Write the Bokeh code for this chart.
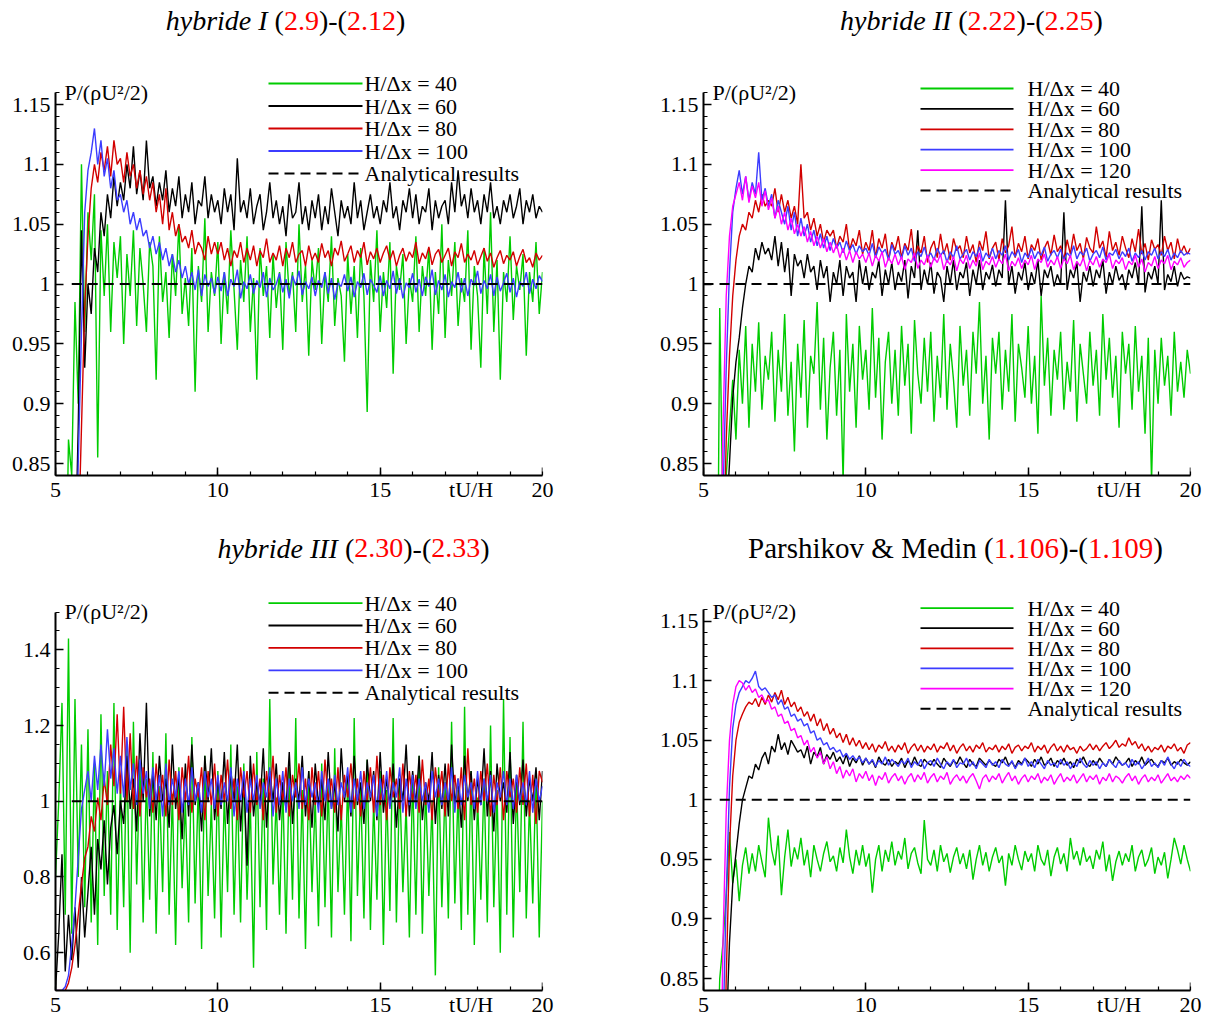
import numpy as np
from bokeh.plotting import figure
from bokeh.models import (Range1d, FixedTicker, CustomJSTickFormatter, Label,
                          LinearAxis)
from bokeh.layouts import column, row
from bokeh.embed import file_html
from bokeh.resources import INLINE

# ---------------------------------------------------------------- data
# time axis tU/H, sampled every 0.1 from 5 to 20
time_grid = [round(5.0 + 0.1 * i, 1) for i in range(151)]

# values are P/(rho U^2/2) in thousandths
# ---- hybride I (2.9)-(2.12)
hyb1_n40 = [600, 620, 640, 700, 870, 840, 985, 900, 1100, 960,
            1060, 1020, 1075, 855, 1045, 990, 1050, 960, 1035, 1005,
            1040, 950, 1025, 990, 1045, 965, 1030, 1000, 960, 1035,
            1015, 920, 1040, 985, 1010, 955, 1025, 990, 1050, 975,
            1005, 965, 1030, 910, 1015, 985, 1055, 960, 1010, 990,
            1035, 950, 1010, 975, 1045, 995, 945, 1020, 985, 1040,
            960, 1005, 920, 1030, 990, 1015, 955, 1025, 980, 1010,
            945, 1035, 990, 1010, 960, 1050, 985, 1015, 940, 1020,
            995, 1030, 950, 1010, 985, 1040, 965, 1005, 990, 935,
            1025, 975, 1015, 955, 1030, 990, 893, 1020, 985, 1045,
            960, 1010, 980, 1035, 925, 1015, 995, 1025, 950, 1005,
            985, 1040, 960, 1015, 990, 1030, 945, 1010, 975, 1050,
            955, 1020, 990, 1035, 965, 1005, 985, 1045, 945, 1015,
            990, 930, 1030, 975, 1060, 960, 1020, 920, 1010, 985,
            1040, 970, 1015, 995, 1025, 940, 1010, 985, 1035, 975,
            1010]
hyb1_n60 = [500, 500, 500, 500, 500, 600, 760, 880, 1045, 930,
            1000, 975, 1030, 1010, 1060, 1040, 1075, 1055, 1090, 1065,
            1085, 1070, 1100, 1080, 1115, 1075, 1095, 1070, 1120, 1080,
            1090, 1065, 1085, 1070, 1095, 1060, 1080, 1065, 1090, 1055,
            1075, 1060, 1085, 1050, 1070, 1065, 1090, 1055, 1075, 1060,
            1070, 1050, 1080, 1060, 1075, 1045, 1105, 1060, 1070, 1055,
            1080, 1050, 1065, 1075, 1045, 1060, 1085, 1055, 1070, 1050,
            1065, 1040, 1075, 1055, 1060, 1085, 1050, 1065, 1045, 1070,
            1055, 1075, 1045, 1065, 1050, 1080, 1060, 1040, 1070, 1055,
            1065, 1050, 1085, 1055, 1070, 1045, 1060, 1075, 1055, 1065,
            1050, 1070, 1060, 1085, 1055, 1065, 1045, 1070, 1060, 1080,
            1055, 1075, 1050, 1065, 1060, 1080, 1045, 1070, 1055, 1065,
            1070, 1050, 1085, 1060, 1095, 1065, 1075, 1055, 1080, 1060,
            1070, 1050, 1075, 1060, 1085, 1055, 1065, 1050, 1070, 1060,
            1075, 1055, 1065, 1080, 1050, 1070, 1060, 1075, 1055, 1065,
            1060]
hyb1_n80 = [500, 500, 500, 500, 500, 550, 650, 780, 880, 980,
            1040, 1080, 1100, 1085, 1110, 1095, 1115, 1090, 1120, 1100,
            1105, 1085, 1110, 1090, 1100, 1080, 1095, 1075, 1090, 1070,
            1085, 1060, 1075, 1050, 1080, 1045, 1060, 1040, 1050, 1035,
            1040, 1030, 1045, 1025, 1035, 1030, 1020, 1040, 1025, 1035,
            1025, 1035, 1020, 1030, 1015, 1028, 1022, 1035, 1018, 1030,
            1020, 1032, 1015, 1028, 1022, 1038, 1018, 1026, 1020, 1032,
            1015, 1030, 1022, 1035, 1018, 1025, 1028, 1015, 1032, 1020,
            1026, 1018, 1034, 1022, 1028, 1015, 1030, 1024, 1036, 1019,
            1025, 1032, 1018, 1028, 1022, 1035, 1016, 1027, 1021, 1030,
            1018, 1026, 1032, 1020, 1028, 1015, 1024, 1030, 1019, 1027,
            1022, 1035, 1017, 1026, 1021, 1031, 1016, 1025, 1029, 1018,
            1024, 1030, 1015, 1027, 1022, 1034, 1018, 1025, 1020, 1028,
            1016, 1023, 1030, 1019, 1026, 1014, 1022, 1028, 1017, 1024,
            1020, 1027, 1015, 1023, 1029, 1018, 1022, 1014, 1026, 1020,
            1024]
hyb1_n100 = [500, 500, 500, 500, 500, 560, 700, 850, 960, 1060,
             1095, 1110, 1130, 1100, 1120, 1090, 1105, 1080, 1095, 1070,
             1075, 1060, 1070, 1050, 1060, 1045, 1055, 1040, 1045, 1030,
             1040, 1025, 1035, 1020, 1030, 1015, 1025, 1010, 1020, 1005,
             1015, 1000, 1010, 995, 1012, 990, 1008, 998, 1005, 992,
             1006, 994, 1010, 990, 1004, 998, 1012, 988, 1002, 996,
             1008, 992, 1003, 997, 1010, 989, 1005, 995, 1000, 1009,
             993, 1004, 988, 1007, 999, 1011, 991, 1002, 996, 1006,
             990, 1003, 997, 1010, 992, 1005, 987, 1001, 998, 1008,
             994, 1006, 989, 1002, 997, 1009, 991, 1004, 999, 993,
             1007, 990, 1003, 996, 1011, 992, 1005, 988, 1001, 997,
             1009, 993, 1004, 990, 1006, 998, 1012, 991, 1003, 995,
             1008, 989, 1002, 997, 1010, 993, 1005, 990, 1004, 999,
             1011, 992, 1003, 996, 1008, 990, 1006, 994, 1001, 1009,
             993, 1005, 989, 1002, 998, 1010, 992, 1004, 996, 1007,
             1002]

# ---- hybride II (2.22)-(2.25)
hyb2_n40 = [600, 600, 600, 600, 600, 980, 800, 840, 880, 920,
            870, 945, 900, 965, 880, 950, 910, 968, 895, 940,
            920, 960, 885, 945, 910, 975, 890, 935, 860, 950,
            905, 970, 880, 940, 925, 985, 895, 955, 870, 930,
            960, 890, 945, 835, 975, 910, 950, 880, 965, 920,
            945, 895, 980, 905, 955, 870, 935, 960, 900, 945,
            890, 965, 915, 950, 875, 970, 925, 900, 955, 910,
            960, 885, 940, 905, 975, 895, 950, 920, 880, 965,
            915, 945, 890, 960, 925, 985, 900, 940, 870, 955,
            925, 960, 895, 945, 910, 975, 885, 950, 930, 905,
            965, 900, 940, 875, 990, 915, 955, 890, 945, 920,
            960, 895, 935, 910, 970, 885, 950, 925, 900, 960,
            915, 945, 890, 975, 920, 955, 905, 940, 880, 960,
            925, 950, 895, 965, 910, 940, 875, 955, 835, 945,
            900, 955, 915, 940, 890, 960, 910, 935, 905, 945,
            925]
hyb2_n60 = [500, 500, 500, 500, 500, 600, 700, 800, 850, 905,
            935, 955, 980, 1000, 1015, 1010, 1030, 1020, 1035, 1025,
            1030, 1020, 1040, 1015, 1035, 1010, 1030, 990, 1025, 1015,
            1020, 1005, 1025, 1010, 1015, 995, 1020, 1005, 1015, 985,
            1010, 1000, 1020, 990, 1015, 1005, 1010, 985, 1020, 1000,
            1015, 995, 1010, 1005, 1020, 990, 1012, 1000, 1018, 995,
            1010, 1002, 1020, 988, 1015, 1005, 1045, 995, 1012, 1000,
            1018, 992, 1010, 1005, 985, 1015, 1000, 1020, 995, 1010,
            1005, 1018, 990, 1012, 1000, 1020, 995, 1010, 1004, 1016,
            998, 1012, 1005, 1070, 1000, 1015, 992, 1010, 1003, 1018,
            995, 1010, 1000, 1020, 990, 1012, 1005, 1015, 998, 1008,
            1000, 1060, 995, 1012, 1005, 1018, 985, 1010, 1002, 1015,
            998, 1012, 1005, 1020, 992, 1010, 1000, 1015, 1003, 1008,
            995, 1012, 1005, 1018, 1000, 1065, 993, 1010, 1004, 1015,
            1000, 1070, 995, 1008, 1002, 1015, 998, 1010, 1004, 1006,
            1005]
hyb2_n80 = [500, 500, 500, 500, 500, 600, 750, 870, 940, 990,
            1020, 1040, 1050, 1045, 1060, 1055, 1070, 1060, 1075, 1065,
            1070, 1065, 1080, 1060, 1075, 1060, 1070, 1055, 1065, 1050,
            1100, 1055, 1060, 1045, 1055, 1040, 1050, 1035, 1045, 1040,
            1045, 1030, 1040, 1035, 1050, 1028, 1038, 1032, 1045, 1025,
            1035, 1028, 1045, 1022, 1038, 1030, 1042, 1020, 1035, 1028,
            1040, 1022, 1034, 1028, 1046, 1020, 1032, 1026, 1040, 1018,
            1030, 1036, 1022, 1042, 1025, 1034, 1020, 1038, 1028, 1032,
            1022, 1040, 1026, 1033, 1018, 1036, 1028, 1044, 1021, 1030,
            1035, 1020, 1038, 1026, 1032, 1048, 1022, 1034, 1027, 1040,
            1021, 1033, 1028, 1038, 1020, 1030, 1036, 1024, 1041, 1027,
            1032, 1020, 1037, 1025, 1042, 1028, 1034, 1021, 1039, 1030,
            1026, 1048, 1030, 1036, 1022, 1044, 1028, 1035, 1024, 1040,
            1030, 1022, 1038, 1027, 1046, 1025, 1034, 1020, 1037, 1029,
            1033, 1024, 1040, 1028, 1035, 1021, 1038, 1026, 1032, 1025,
            1030]
hyb2_n100 = [500, 500, 500, 500, 500, 620, 820, 930, 1010, 1060,
             1080, 1095, 1075, 1090, 1070, 1085, 1075, 1110, 1070, 1080,
             1065, 1075, 1055, 1070, 1060, 1050, 1065, 1045, 1060, 1040,
             1055, 1040, 1050, 1035, 1045, 1032, 1042, 1030, 1040, 1028,
             1038, 1030, 1035, 1026, 1036, 1028, 1033, 1025, 1032, 1027,
             1030, 1024, 1034, 1022, 1031, 1026, 1029, 1020, 1033, 1025,
             1028, 1021, 1032, 1024, 1030, 1019, 1027, 1023, 1031, 1022,
             1026, 1020, 1030, 1024, 1028, 1018, 1027, 1022, 1032, 1021,
             1025, 1029, 1020, 1027, 1023, 1031, 1019, 1026, 1022, 1030,
             1021, 1028, 1024, 1032, 1020, 1027, 1023, 1029, 1018, 1026,
             1022, 1030, 1021, 1027, 1024, 1031, 1019, 1025, 1028, 1022,
             1029, 1020, 1026, 1023, 1032, 1021, 1027, 1024, 1030, 1019,
             1025, 1028, 1022, 1031, 1020, 1026, 1024, 1029, 1021, 1027,
             1023, 1030, 1019, 1026, 1022, 1028, 1020, 1027, 1024, 1030,
             1021, 1027, 1023, 1029, 1020, 1026, 1022, 1028, 1024, 1026,
             1025]
hyb2_n120 = [500, 500, 500, 500, 500, 700, 880, 990, 1040, 1065,
             1075, 1085, 1070, 1090, 1068, 1082, 1072, 1085, 1065, 1078,
             1062, 1072, 1055, 1065, 1050, 1060, 1045, 1055, 1042, 1050,
             1040, 1048, 1035, 1044, 1032, 1040, 1030, 1038, 1027, 1035,
             1026, 1033, 1022, 1030, 1020, 1028, 1018, 1027, 1021, 1025,
             1018, 1026, 1015, 1024, 1019, 1027, 1014, 1022, 1017, 1025,
             1016, 1023, 1012, 1021, 1018, 1026, 1013, 1020, 1016, 1024,
             1014, 1022, 1018, 1025, 1012, 1020, 1016, 1023, 1011, 1021,
             1017, 1024, 1013, 1020, 1015, 1026, 1012, 1019, 1016, 1023,
             1014, 1021, 1017, 1025, 1011, 1019, 1015, 1022, 1013, 1020,
             1016, 1024, 1012, 1021, 1018, 1025, 1014, 1020, 1016, 1023,
             1013, 1021, 1017, 1024, 1012, 1019, 1015, 1022, 1011, 1020,
             1016, 1023, 1014, 1021, 1018, 1025, 1013, 1020, 1017, 1022,
             1012, 1019, 1016, 1024, 1014, 1021, 1010, 1018, 1015, 1023,
             1013, 1020, 1017, 1024, 1012, 1019, 1016, 1022, 1014, 1018,
             1020]

# ---- hybride III (2.30)-(2.33)
hyb3_n40 = [800, 1000, 1260, 700, 1430, 650, 1270, 800, 1150, 720,
            1190, 680, 1100, 620, 1230, 750, 1080, 700, 1260, 660,
            1050, 720, 1150, 600, 1210, 780, 1100, 680, 1060, 740,
            1130, 650, 1040, 760, 1180, 700, 1020, 620, 1090, 770,
            1000, 680, 1170, 730, 1050, 610, 1120, 750, 990, 690,
            1080, 640, 1020, 760, 1150, 700, 1040, 680, 1100, 740,
            1000, 560, 1130, 720, 1060, 660, 1270, 780, 1010, 700,
            1050, 650, 1090, 740, 1220, 690, 1030, 610, 1080, 760,
            1010, 670, 1100, 720, 1050, 640, 1140, 760, 990, 700,
            1060, 630, 1220, 750, 1040, 690, 1110, 660, 1000, 740,
            1080, 620, 1030, 710, 1220, 680, 1060, 760, 990, 640,
            1070, 700, 1120, 650, 1040, 750, 1000, 540, 1090, 720,
            1050, 690, 1210, 730, 1030, 660, 1250, 700, 1080, 620,
            1010, 740, 1060, 680, 1200, 720, 1030, 600, 1270, 700,
            1170, 640, 1050, 760, 1210, 690, 1000, 730, 1080, 640,
            1000]
hyb3_n60 = [500, 650, 860, 550, 700, 580, 720, 560, 800, 640,
            760, 880, 700, 900, 820, 950, 780, 930, 990, 860,
            1000, 940, 1120, 980, 1060, 920, 1180, 1000, 1260, 960,
            1080, 950, 1120, 1000, 1060, 930, 1150, 980, 1070, 900,
            1100, 960, 1150, 990, 1050, 920, 1120, 1000, 1140, 950,
            1060, 980, 1130, 940, 1080, 1000, 1150, 920, 1070, 830,
            1120, 960, 1050, 990, 1140, 930, 1080, 1000, 1100, 950,
            1050, 980, 1130, 940, 1060, 1000, 1120, 960, 1080, 930,
            1100, 990, 1060, 950, 1130, 980, 1050, 920, 1140, 1000,
            1070, 960, 1120, 990, 1050, 940, 1110, 1000, 1080, 950,
            1130, 970, 1060, 990, 1100, 930, 1060, 1000, 1150, 960,
            1080, 990, 1120, 950, 1050, 1000, 1130, 940, 1070, 980,
            1100, 960, 1150, 990, 1060, 930, 1120, 1000, 1080, 950,
            1060, 990, 1140, 960, 1080, 920, 1100, 1000, 1050, 970,
            1130, 940, 1070, 990, 1110, 960, 1060, 1000, 1090, 950,
            1080]
hyb3_n80 = [500, 500, 500, 500, 520, 560, 620, 700, 780, 850,
            880, 960, 920, 1010, 950, 1060, 990, 1150, 1040, 1230,
            1020, 1250, 1000, 1180, 980, 1120, 960, 1090, 1010, 1060,
            970, 1100, 1000, 1070, 960, 1110, 990, 1080, 950, 1090,
            1000, 1120, 970, 1060, 1010, 1090, 950, 1080, 990, 1100,
            960, 1070, 1000, 1110, 980, 1060, 950, 1090, 1010, 1080,
            970, 1100, 990, 1060, 950, 1080, 1000, 1120, 970, 1070,
            1000, 1090, 960, 1070, 1010, 1100, 980, 1060, 950, 1090,
            990, 1080, 960, 1110, 1000, 1060, 970, 1090, 950, 1070,
            1010, 1100, 980, 1060, 960, 1080, 1000, 1090, 970, 1120,
            990, 1070, 950, 1090, 1010, 1060, 980, 1100, 960, 1080,
            1000, 1070, 970, 1110, 990, 1060, 950, 1090, 1010, 1080,
            960, 1100, 1000, 1070, 980, 1090, 950, 1140, 990, 1060,
            970, 1080, 1000, 1100, 960, 1070, 990, 1090, 950, 1080,
            1010, 1060, 970, 1090, 990, 1100, 960, 1070, 940, 1080,
            1050]
hyb3_n100 = [500, 500, 500, 510, 540, 620, 720, 850, 980, 1030,
             1080, 1000, 1120, 1030, 1150, 1040, 1190, 1060, 1140, 1020,
             1120, 1010, 1170, 1030, 1100, 990, 1110, 1020, 1080, 980,
             1090, 1000, 1070, 960, 1100, 990, 1060, 1010, 1080, 970,
             1060, 990, 1090, 1000, 1050, 970, 1080, 1010, 1060, 980,
             1070, 990, 1050, 1000, 1090, 960, 1060, 1000, 1080, 970,
             1060, 1000, 1070, 980, 1050, 1010, 1090, 960, 1060, 990,
             1080, 970, 1060, 1000, 1050, 980, 1090, 990, 1060, 1010,
             1050, 970, 1080, 1000, 1060, 980, 1070, 990, 1050, 1010,
             1090, 970, 1060, 1000, 1080, 980, 1050, 1010, 1070, 960,
             1060, 1000, 1080, 980, 1050, 1010, 1090, 970, 1060, 990,
             1070, 980, 1060, 1000, 1050, 970, 1080, 1010, 1060, 990,
             1050, 1000, 1090, 970, 1060, 990, 1070, 1010, 1050, 980,
             1080, 990, 1060, 1000, 1070, 970, 1050, 1010, 1080, 990,
             1060, 980, 1070, 1000, 1050, 990, 1080, 970, 1060, 1000,
             1040]

# ---- Parshikov & Medin (1.106)-(1.109)
pm_n40 = [600, 600, 600, 650, 740, 850, 880, 920, 973, 930,
          950, 915, 945, 960, 938, 955, 940, 962, 948, 935,
          985, 958, 945, 970, 920, 952, 975, 944, 960, 950,
          968, 945, 958, 935, 962, 950, 940, 955, 965, 948,
          953, 940, 960, 947, 975, 952, 938, 958, 945, 962,
          944, 955, 922, 950, 962, 940, 958, 948, 965, 945,
          957, 950, 968, 942, 955, 960, 947, 938, 983, 950,
          945, 958, 940, 962, 948, 955, 939, 952, 960, 946,
          955, 942, 958, 933, 950, 962, 945, 956, 940, 952,
          960, 947, 953, 928, 955, 945, 962, 950, 941, 957,
          948, 955, 940, 962, 950, 945, 958, 936, 952, 960,
          946, 955, 940, 968, 950, 957, 945, 960, 948, 953,
          942, 958, 950, 965, 940, 954, 932, 948, 957, 945,
          955, 948, 962, 940, 952, 958, 944, 950, 960, 938,
          952, 945, 956, 934, 950, 968, 958, 946, 962, 950,
          940]
pm_n60 = [500, 500, 500, 500, 500, 600, 700, 800, 880, 930,
          955, 980, 1000, 1010, 1020, 1018, 1030, 1025, 1035, 1040,
          1030, 1045, 1040, 1055, 1042, 1048, 1038, 1050, 1045, 1040,
          1042, 1035, 1045, 1030, 1040, 1036, 1044, 1030, 1038, 1034,
          1040, 1032, 1036, 1030, 1038, 1028, 1035, 1031, 1037, 1029,
          1035, 1030, 1033, 1027, 1036, 1031, 1029, 1034, 1028, 1032,
          1030, 1035, 1027, 1033, 1029, 1036, 1030, 1028, 1034, 1031,
          1029, 1034, 1030, 1027, 1035, 1031, 1028, 1033, 1030, 1036,
          1031, 1027, 1034, 1030, 1028, 1035, 1032, 1029, 1033, 1030,
          1028, 1034, 1031, 1036, 1029, 1032, 1027, 1033, 1030, 1035,
          1032, 1028, 1034, 1030, 1036, 1029, 1031, 1035, 1028, 1033,
          1030, 1035, 1029, 1032, 1027, 1034, 1031, 1036, 1030, 1028,
          1033, 1029, 1035, 1031, 1028, 1034, 1030, 1036, 1032, 1029,
          1031, 1035, 1028, 1033, 1030, 1036, 1029, 1032, 1034, 1030,
          1028, 1033, 1031, 1035, 1029, 1032, 1030, 1034, 1031, 1029,
          1032]
pm_n80 = [500, 500, 500, 500, 500, 600, 720, 850, 960, 1020,
          1050, 1065, 1072, 1078, 1082, 1080, 1085, 1078, 1086, 1080,
          1088, 1082, 1090, 1084, 1092, 1080, 1086, 1078, 1082, 1074,
          1078, 1070, 1074, 1066, 1072, 1062, 1068, 1058, 1064, 1055,
          1060, 1052, 1056, 1048, 1055, 1046, 1052, 1045, 1050, 1043,
          1048, 1042, 1047, 1040, 1046, 1043, 1049, 1041, 1045, 1040,
          1046, 1042, 1048, 1039, 1044, 1047, 1041, 1046, 1040, 1045,
          1042, 1047, 1040, 1045, 1043, 1048, 1041, 1046, 1039, 1044,
          1047, 1041, 1045, 1040, 1046, 1043, 1048, 1040, 1044, 1042,
          1046, 1040, 1045, 1042, 1047, 1039, 1044, 1046, 1041, 1045,
          1043, 1048, 1040, 1045, 1042, 1046, 1039, 1044, 1047, 1041,
          1045, 1040, 1046, 1042, 1044, 1039, 1045, 1041, 1043, 1047,
          1042, 1046, 1041, 1045, 1048, 1043, 1046, 1050, 1044, 1047,
          1045, 1052, 1046, 1049, 1043, 1047, 1041, 1045, 1040, 1044,
          1042, 1046, 1040, 1045, 1043, 1047, 1041, 1044, 1039, 1046,
          1048]
pm_n100 = [500, 500, 500, 500, 500, 640, 800, 920, 1010, 1060,
           1080, 1090, 1095, 1100, 1098, 1102, 1108, 1095, 1092, 1094,
           1090, 1086, 1088, 1080, 1084, 1076, 1078, 1070, 1072, 1066,
           1068, 1062, 1064, 1056, 1058, 1050, 1052, 1046, 1048, 1042,
           1044, 1040, 1042, 1036, 1039, 1034, 1037, 1033, 1036, 1031,
           1035, 1030, 1034, 1028, 1033, 1030, 1036, 1029, 1034, 1031,
           1028, 1033, 1030, 1035, 1027, 1032, 1029, 1034, 1026, 1031,
           1033, 1028, 1035, 1030, 1026, 1032, 1029, 1034, 1027, 1031,
           1030, 1035, 1028, 1032, 1026, 1033, 1030, 1027, 1034, 1029,
           1032, 1027, 1034, 1030, 1028, 1033, 1026, 1031, 1029, 1035,
           1028, 1032, 1027, 1034, 1030, 1026, 1033, 1029, 1031, 1027,
           1034, 1029, 1032, 1026, 1031, 1028, 1035, 1030, 1027, 1033,
           1029, 1032, 1026, 1031, 1028, 1034, 1030, 1027, 1033, 1029,
           1031, 1027, 1034, 1029, 1032, 1026, 1030, 1035, 1028, 1031,
           1027, 1033, 1029, 1036, 1030, 1026, 1032, 1028, 1034, 1030,
           1028]
pm_n120 = [500, 500, 500, 500, 500, 700, 880, 990, 1050, 1080,
           1095, 1100, 1098, 1092, 1096, 1090, 1093, 1086, 1088, 1082,
           1084, 1076, 1078, 1070, 1072, 1064, 1066, 1058, 1060, 1052,
           1054, 1046, 1050, 1040, 1044, 1035, 1040, 1030, 1036, 1026,
           1032, 1022, 1028, 1018, 1025, 1020, 1026, 1015, 1022, 1018,
           1024, 1016, 1021, 1012, 1020, 1017, 1023, 1014, 1019, 1022,
           1016, 1020, 1013, 1019, 1022, 1015, 1021, 1017, 1023, 1014,
           1019, 1022, 1015, 1020, 1017, 1023, 1013, 1018, 1021, 1016,
           1020, 1014, 1019, 1022, 1016, 1009, 1018, 1021, 1015, 1020,
           1017, 1022, 1014, 1019, 1023, 1016, 1020, 1013, 1018, 1021,
           1015, 1020, 1017, 1022, 1014, 1019, 1016, 1021, 1013, 1018,
           1022, 1015, 1019, 1016, 1021, 1014, 1018, 1022, 1015, 1020,
           1017, 1021, 1013, 1019, 1016, 1022, 1015, 1020, 1018, 1014,
           1019, 1022, 1016, 1020, 1013, 1018, 1021, 1015, 1019, 1016,
           1021, 1014, 1018, 1022, 1016, 1019, 1015, 1020, 1017, 1021,
           1018]

# analytical result P/(rho U^2/2) = 1
analytical_value = [1.0, 1.0]
analytical_t_start = [5.5, 5.0, 5.5, 5.5]
analytical_t_end = 20.0

resolutions = ["40", "60", "80", "100", "120"]
x_major_ticks = [5, 10, 15, 20]
x_title_pos = 17.8          # where "tU/H" sits on the x axis
y_major_small = [0.85, 0.9, 0.95, 1.0, 1.05, 1.1, 1.15]
y_major_big = [0.6, 0.8, 1.0, 1.2, 1.4]

# ---------------------------------------------------------------- style
SERIF = "Liberation Serif"
COLORS = {"40": "#00cc00", "60": "#000000", "80": "#d20000",
          "100": "#3c3cff", "120": "#ff00ff"}
RED = "#ff0000"
TICK_FS = "22px"
LEG_FS = "22px"

W_REG = {' ': 250, '(': 333, ')': 333, '-': 333, '.': 250, '&': 778,
         'P': 556, 'a': 444, 'r': 333, 's': 389, 'h': 500, 'i': 278,
         'k': 500, 'o': 500, 'v': 500, 'M': 889, 'e': 444, 'd': 500,
         'n': 500}
W_IT = {' ': 250, 'h': 500, 'y': 444, 'b': 500, 'r': 389, 'i': 278,
        'd': 500, 'e': 444, 'I': 333}


def text_w(s, italic, size):
    table = W_IT if italic else W_REG
    return sum(table.get(c, 500) for c in s) * size / 1000.0


YFMT = CustomJSTickFormatter(code="return String(Math.round(tick*1000)/1000);")
XFMT = CustomJSTickFormatter(
    args=dict(pos=x_title_pos),
    code="return (Math.abs(tick - pos) < 1e-6) ? 'tU/H' : String(Math.round(tick));")


def build(spec):
    fx, fy = spec["origin"]
    W, H = spec["size"]
    fl, fr, fb = spec["frame"]
    ymin, pyu = spec["ymin"], spec["pyu"]
    pxu = (fr - fl) / 15.0
    yend = ymin + (fb - fy) / pyu

    def dx(px):
        return 5.0 + (px - fl) / pxu

    def dy(py):
        return ymin + (fb - py) / pyu

    p = figure(width=W, height=H, x_range=Range1d(5, 20),
               y_range=Range1d(ymin, yend),
               min_border_left=fl - fx, min_border_right=fx + W - fr,
               min_border_top=0, min_border_bottom=fy + H - fb,
               output_backend="svg", toolbar_location=None)
    p.outline_line_color = None
    p.xgrid.visible = False
    p.ygrid.visible = False

    for ax in (p.xaxis[0], p.yaxis[0]):
        ax.axis_line_width = 2
        ax.axis_line_color = "black"
        ax.major_tick_out = 0
        ax.minor_tick_in = 4
        ax.minor_tick_out = 0
        ax.major_tick_line_width = 1.5
        ax.minor_tick_line_width = 1.2
        ax.major_tick_line_color = "black"
        ax.minor_tick_line_color = "black"
        ax.major_label_text_font = SERIF
        ax.major_label_text_font_size = TICK_FS
        ax.major_label_text_color = "black"

    # x axis: labels 5,10,15,20 and the axis title "tU/H" on the same line
    xa = p.xaxis[0]
    xa.major_tick_in = 0
    xa.major_label_standoff = 1
    xa.formatter = XFMT
    xa.ticker = FixedTicker(ticks=x_major_ticks + [x_title_pos],
                            minor_ticks=list(range(5, 21)))
    xa.bounds = (5, 20)
    # long major tick marks of the x axis
    xt = LinearAxis(fixed_location=ymin,
                    ticker=FixedTicker(ticks=x_major_ticks, minor_ticks=[]),
                    axis_line_color=None, major_tick_in=8, major_tick_out=0,
                    major_tick_line_width=1.5, major_tick_line_color="black",
                    minor_tick_in=0, minor_tick_out=0,
                    major_label_text_color=None)
    p.add_layout(xt, "below")

    ya = p.yaxis[0]
    ya.major_tick_in = 8
    ya.major_label_standoff = 5
    ya.formatter = YFMT
    ya.ticker = FixedTicker(ticks=spec["yticks"], minor_ticks=spec["yminor"])
    ya.bounds = (ymin, spec["ytop"])

    for vals, lab in zip(spec["series"], spec["labels"]):
        y = np.array(vals, dtype=float) / 1000.0
        t = time_grid[:len(vals)]
        p.line(t, y, line_color=COLORS[lab], line_width=1.4)
    p.line([spec["ana_t0"], analytical_t_end], analytical_value,
           line_color="black", line_width=2, line_dash="10 6")

    # legend (drawn in the upper part of the panel, as in the original)
    lg = spec["legend"]
    entries = [("H/\u0394x = " + lab, COLORS[lab], "solid")
               for lab in spec["labels"]]
    entries.append(("Analytical results", "black", "10 6"))
    for i, (txt, col, dash) in enumerate(entries):
        py = lg["first"] + i * lg["pitch"]
        p.line([dx(lg["left"]), dx(lg["left"] + lg["gw"])], [dy(py), dy(py)],
               line_color=col, line_width=1.8 if dash == "solid" else 2,
               line_dash=dash)
        p.add_layout(Label(x=dx(lg["left"] + lg["gw"] + lg["standoff"]),
                           y=dy(py), text=txt, text_font=SERIF,
                           text_font_size=LEG_FS, text_align="left",
                           text_baseline="middle", text_color="black"))

    # title made of several pieces (italic / red parts)
    parts = spec["title"]
    tfs = spec["title_fs"]
    widths = [text_w(s, it, tfs) for s, it, c in parts]
    x = spec["title_cx"] - sum(widths) / 2.0
    for (s, it, c), w in zip(parts, widths):
        if s.strip():
            lead = len(s) - len(s.lstrip())
            p.add_layout(Label(x=dx(x + text_w(s[:lead], it, tfs)),
                               y=dy(spec["title_cy"]), text=s.strip(),
                               text_font=SERIF, text_font_size=f"{tfs}px",
                               text_font_style="italic" if it else "normal",
                               text_color=c, text_align="left",
                               text_baseline="middle"))
        x += w

    p.add_layout(Label(x=dx(spec["ylab"][0]), y=dy(spec["ylab"][1]),
                       text="P/(\u03c1U\u00b2/2)", text_font=SERIF,
                       text_font_size="22px", text_align="left",
                       text_baseline="middle", text_color="black"))
    return p


minor_small = [round(0.84 + 0.01 * i, 2) for i in range(33)]
minor_big = [round(0.5 + 0.05 * i, 2) for i in range(21)]
K = "black"

specs = [
    dict(origin=(0, 0), size=(597, 505), frame=(55, 542, 475),
         ymin=0.84, pyu=1196.7, ytop=1.16, yticks=y_major_small,
         yminor=minor_small,
         series=[hyb1_n40, hyb1_n60, hyb1_n80, hyb1_n100],
         labels=resolutions[:4], ana_t0=analytical_t_start[0],
         legend=dict(left=268, first=83, pitch=22.5, gw=94, standoff=2),
         title=[("hybride I", True, K), (" (", False, K), ("2.9", False, RED),
                (")-(", False, K), ("2.12", False, RED), (")", False, K)],
         title_fs=28, title_cx=285, title_cy=20, ylab=(64, 92)),
    dict(origin=(597, 0), size=(611, 505), frame=(703, 1190, 475),
         ymin=0.84, pyu=1196.7, ytop=1.16, yticks=y_major_small,
         yminor=minor_small,
         series=[hyb2_n40, hyb2_n60, hyb2_n80, hyb2_n100, hyb2_n120],
         labels=resolutions, ana_t0=analytical_t_start[1],
         legend=dict(left=920, first=88, pitch=20.4, gw=93, standoff=14),
         title=[("hybride II", True, K), (" (", False, K), ("2.22", False, RED),
                (")-(", False, K), ("2.25", False, RED), (")", False, K)],
         title_fs=28, title_cx=971, title_cy=20, ylab=(712, 92)),
    dict(origin=(0, 505), size=(597, 514), frame=(55, 542, 992),
         ymin=0.5, pyu=380.0, ytop=1.5, yticks=y_major_big,
         yminor=minor_big,
         series=[hyb3_n40, hyb3_n60, hyb3_n80, hyb3_n100],
         labels=resolutions[:4], ana_t0=analytical_t_start[2],
         legend=dict(left=268, first=603, pitch=22.5, gw=94, standoff=2),
         title=[("hybride III", True, K), (" (", False, K), ("2.30", False, RED),
                (")-(", False, K), ("2.33", False, RED), (")", False, K)],
         title_fs=28, title_cx=353, title_cy=548, ylab=(64, 611)),
    dict(origin=(597, 505), size=(611, 514), frame=(703, 1190, 992),
         ymin=0.84, pyu=1196.7, ytop=1.16, yticks=y_major_small,
         yminor=minor_small,
         series=[pm_n40, pm_n60, pm_n80, pm_n100, pm_n120],
         labels=resolutions, ana_t0=analytical_t_start[3],
         legend=dict(left=920, first=608, pitch=20.2, gw=93, standoff=14),
         title=[("Parshikov & Medin (", False, K), ("1.106", False, RED),
                (")-(", False, K), ("1.109", False, RED), (")", False, K)],
         title_fs=29, title_cx=955, title_cy=548, ylab=(712, 611)),
]

figs = [build(s) for s in specs]
layout = column(row(figs[0], figs[1]), row(figs[2], figs[3]))

open("out.html", "w").write(file_html(layout, INLINE, "Pressure"))
